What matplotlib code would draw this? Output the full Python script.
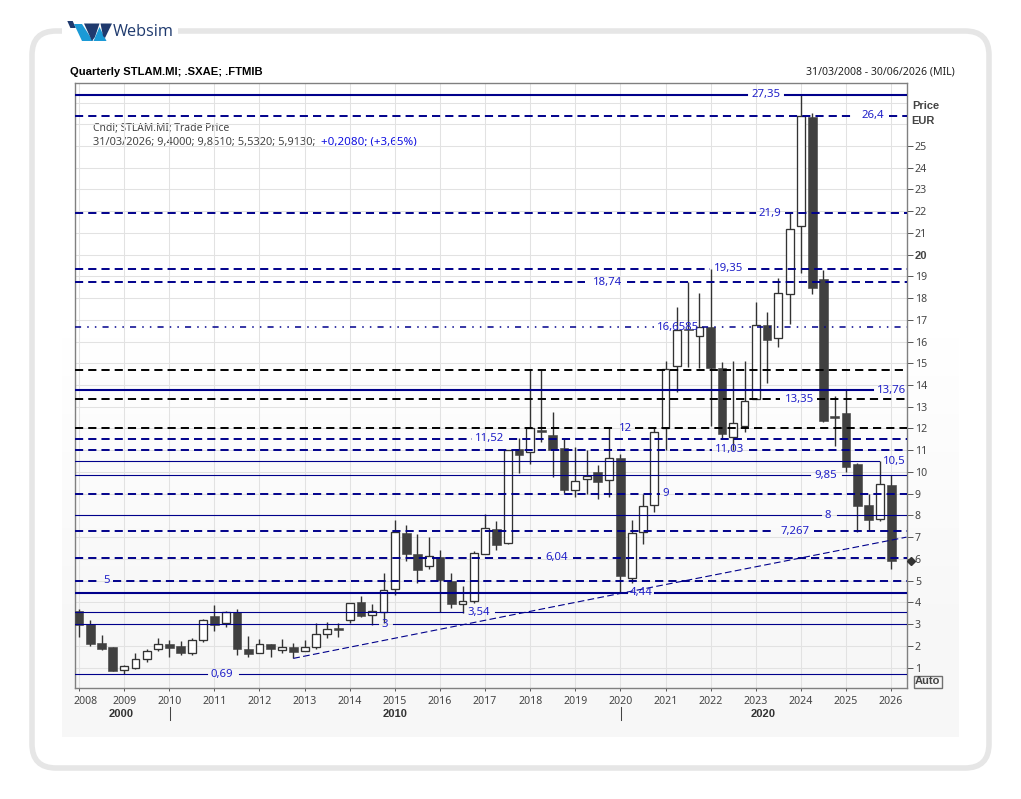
import matplotlib
matplotlib.use('Agg')
import matplotlib.pyplot as plt
import matplotlib.transforms as mtrans
from matplotlib.patches import FancyBboxPatch, Polygon, Rectangle
import numpy as np

plt.rcParams['font.family'] = ['Noto Sans', 'DejaVu Sans']
BOLD = ['Liberation Sans', 'DejaVu Sans']

# quarterly candles, first one is 31/03/2008
opens = [3.60, 2.99, 2.11, 1.93, 0.90, 0.99, 1.40, 1.87,
         2.07, 1.97, 1.68, 2.28, 3.36, 3.03, 3.57, 1.84,
         1.65, 2.07, 1.82, 1.93, 1.78, 1.93, 2.53, 2.80,
         3.17, 4.00, 3.40, 3.57, 4.60, 7.20, 6.22, 5.68,
         6.07, 4.97, 3.94, 4.07, 6.24, 7.36, 6.74, 11.04,
         10.90, 11.93, 11.70, 11.09, 9.15, 9.69, 9.98, 9.61,
         10.63, 5.10, 7.24, 8.49, 12.00, 14.86, 16.60, 16.24,
         16.65, 14.77, 11.59, 12.10, 13.36, 16.75, 16.15, 18.17,
         21.30, 26.34, 18.86, 12.57, 12.70, 10.36, 8.48, 7.82,
         9.40]
highs = [3.68, 3.20, 2.50, 1.93, 1.10, 1.65, 1.84, 2.34,
         2.27, 2.22, 2.34, 3.22, 3.88, 3.60, 3.68, 2.43,
         2.30, 2.07, 2.30, 2.11, 2.25, 3.03, 3.09, 3.03,
         3.98, 4.28, 3.92, 5.33, 7.79, 7.54, 7.14, 7.00,
         6.40, 5.33, 4.75, 6.36, 8.06, 7.74, 11.01, 11.55,
         14.70, 14.70, 12.76, 11.50, 11.13, 11.00, 10.32, 12.00,
         10.83, 7.79, 8.98, 12.04, 15.10, 17.60, 18.74, 18.23,
         19.35, 15.04, 15.10, 15.10, 17.83, 17.36, 18.91, 21.90,
         27.35, 26.50, 19.29, 13.49, 13.76, 10.40, 8.97, 10.50,
         9.851]
lows = [2.42, 2.00, 1.82, 0.85, 0.69, 0.95, 1.25, 1.77,
        1.50, 1.58, 1.58, 2.17, 2.69, 2.88, 1.59, 1.50,
        1.65, 1.50, 1.68, 1.42, 1.78, 1.84, 2.36, 2.42,
        3.06, 3.31, 2.94, 3.06, 4.34, 5.92, 4.90, 5.53,
        3.55, 3.74, 3.49, 3.98, 6.24, 6.41, 6.68, 9.96,
        10.38, 11.36, 9.75, 9.02, 8.83, 8.98, 8.77, 8.86,
        4.41, 4.87, 6.68, 8.16, 11.01, 13.69, 14.84, 14.80,
        12.11, 11.58, 11.01, 11.85, 13.36, 14.10, 15.76, 16.80,
        19.14, 18.19, 12.30, 11.20, 10.00, 7.25, 7.33, 7.76,
        5.532]
closes = [2.95, 2.10, 1.85, 0.85, 1.05, 1.40, 1.75, 2.07,
          1.92, 1.68, 2.28, 3.17, 2.96, 3.57, 1.87, 1.64,
          2.07, 1.84, 1.93, 1.73, 1.93, 2.53, 2.76, 2.74,
          3.98, 3.38, 3.59, 4.55, 7.24, 6.22, 5.50, 6.12,
          5.03, 3.94, 4.05, 6.25, 7.40, 6.65, 11.01, 10.80,
          12.00, 11.85, 11.00, 9.18, 9.60, 9.80, 9.55, 10.63,
          5.22, 7.17, 8.42, 11.82, 14.75, 16.54, 16.54, 16.68,
          14.80, 11.76, 12.24, 13.25, 16.75, 16.09, 18.22, 21.16,
          26.37, 18.48, 12.35, 12.50, 10.23, 8.43, 7.80, 9.43,
          5.913]

# horizontal levels
level_values = [27.35, 26.4, 21.9, 19.35, 18.74, 16.6585, 14.7, 13.76, 13.35, 12,
                11.52, 11.03, 10.5, 9.85, 9, 8, 7.267, 6.04, 5, 4.44, 3.54, 3, 0.69]
level_labels = ['27,35', '26,4', '21,9', '19,35', '18,74', '16,6585', '', '13,76', '13,35', '12',
                '11,52', '11,03', '10,5', '9,85', '9', '8', '7,267', '6,04', '5', '4,44', '3,54', '3', '0,69']
level_styles = ['thick', 'dash', 'dash', 'dash', 'dash', 'dots', 'black', 'thick', 'black', 'black',
                'dash', 'dash', 'thin', 'thin', 'dash', 'thin', 'dash', 'dash', 'dash', 'thick', 'thin', 'thin', 'thin']
# pixel x of the label and of the break in the line
label_px = [766, 873, 770, 729, 608, 678, 0, 891, 799, 625,
            490, 730, 894, 826, 666, 828, 795, 557, 106, 641, 479, 385, 222]
gap_from = [747, 855, 756, 710, 585, 654, 0, 873, 780, 617,
            472, 712, 879, 810, 660, 821, 775, 541, 100, 627, 463, 378, 207]
gap_to = [785, 889, 785, 748, 627, 702, 0, 907, 817, 635,
          509, 749, 907, 842, 675, 837, 814, 573, 113, 655, 495, 393, 239]

trend_x = [19, 48, 73.36]
trend_y = [1.42, 4.41, 7.0]

year_labels = [str(y) for y in range(2008, 2027)]
decade_labels = ['2000', '2010', '2020']
decade_px = [121, 395, 763]
price_ticks = list(range(1, 26))

NAVY = '#00008b'
LABEL = '#2020c8'
TXT = '#444444'
W, H = 1021, 799


def px_to_idx(px):
    return (px - 79) / 11.28


fig = plt.figure(figsize=(W / 100, H / 100), dpi=100, facecolor='white')

# page background, logo and card
bg = fig.add_axes([0, 0, 1, 1], zorder=0)
stops = np.interp(np.arange(60, 737), [60, 300, 640, 737], [1.0, 1.0, 0.965, 0.965])
bg.imshow(stops[:, None], extent=(62, 958, 737, 60), cmap='gray', vmin=0, vmax=1, aspect='auto')
bg.add_patch(FancyBboxPatch((32, 31), 957, 737, boxstyle='round,pad=0,rounding_size=24',
                            fc='none', ec='#e6e6e6', lw=4.0))
bg.add_patch(Rectangle((62, 20), 116, 20, fc='white', ec='none'))
bg.add_patch(Polygon([(67.3, 21), (72.7, 21), (75.8, 28), (70.4, 28)], fc='#1f3a6e', ec='none'))
bg.add_patch(Polygon([(74, 24), (82, 24), (93, 41), (82, 41)], fc='#1b9ad6', ec='none'))
bg.add_patch(Polygon([(84, 23.5), (99.5, 23.5), (95, 37), (92, 41)], fc='#1f3a6e', ec='none'))
bg.add_patch(Polygon([(93.5, 41), (99.5, 27), (106.5, 41)], fc='#1b9ad6', ec='none'))
bg.add_patch(Polygon([(100.5, 23.5), (112, 23.5), (105, 38), (103, 36)], fc='#1f3a6e', ec='none'))
bg.text(113, 32, 'Websim', color='#1f3a6e', fontsize=11.7, va='center', ha='left', family=['Open Sans'])
bg.text(70, 72, 'Quarterly STLAM.MI; .SXAE; .FTMIB', color='black', fontsize=8.1, fontweight='bold',
        va='center', family=BOLD)
bg.text(955, 72, '31/03/2008 - 30/06/2026 (MIL)', color='#222222', fontsize=7.6, va='center', ha='right')
bg.set_xlim(0, W)
bg.set_ylim(H, 0)
bg.axis('off')

# price chart
ax = fig.add_axes([74.5 / W, 1 - 688 / H, 832 / W, 605 / H], zorder=1)
ax.patch.set_alpha(0)
ax.set_xlim(px_to_idx(74.5), px_to_idx(906.5))
ax.set_ylim(0.057, 27.9)
ax.set_axisbelow(True)
for s in ax.spines.values():
    s.set_color('#808080')
    s.set_linewidth(1.0)

xs = np.arange(len(opens))
year_pos = xs[::4]
ax.set_xticks(year_pos)
ax.set_xticklabels(year_labels)
ax.set_yticks(price_ticks)
ax.set_yticks([26, 27], minor=True)
ax.yaxis.tick_right()
ax.tick_params(axis='x', length=2.5, width=0.7, color='#555555', labelsize=7.6, labelcolor=TXT, pad=3)
ax.tick_params(axis='y', length=4, width=0.7, color='#555555', labelsize=7.6, labelcolor=TXT, pad=2)
ax.tick_params(axis='y', which='minor', length=0)
ax.grid(True, which='both', color='#e2e2e2', lw=0.75)
for t in ax.get_yticklabels():
    if t.get_text() == '20':
        t.set_fontweight('bold')
        t.set_family(BOLD)
        t.set_fontsize(8)
# first year label is pushed inside
xtl = ax.get_xticklabels()[0]
xtl.set_transform(xtl.get_transform() + mtrans.ScaledTranslation(6.5 / 100, 0, fig.dpi_scale_trans))

# candles
for i in xs:
    ax.plot([i, i], [lows[i], highs[i]], color='#333333', lw=1.0, zorder=3, solid_capstyle='butt')
    top, bot = max(opens[i], closes[i]), min(opens[i], closes[i])
    if closes[i] >= opens[i]:
        ax.bar(i, top - bot, bottom=bot, width=7.8 / 11.28, fc='white', ec='#333333', lw=0.95, zorder=4)
    else:
        ax.bar(i, top - bot, bottom=bot, width=8.8 / 11.28, fc='#404040', ec='#404040', lw=0.4, zorder=4)

# levels, broken where the label sits
styles = {
    'thick': dict(color=NAVY, lw=1.5, ls='-'),
    'thin': dict(color=NAVY, lw=0.8, ls='-'),
    'dash': dict(color=NAVY, lw=1.4, ls=(0, (4.2, 2.6))),
    'black': dict(color='black', lw=1.4, ls=(0, (4.2, 2.6))),
    'dots': dict(color=NAVY, lw=1.1, ls=(0, (4, 4, 1, 4, 1, 4))),
}
x0, x1 = ax.get_xlim()
for val, lab, st, lp, ga, gb in zip(level_values, level_labels, level_styles, label_px, gap_from, gap_to):
    if lab:
        ax.plot([x0, px_to_idx(ga)], [val, val], zorder=5, **styles[st])
        if gb < 906:
            ax.plot([px_to_idx(gb), x1], [val, val], zorder=5, **styles[st])
        ax.text(px_to_idx(lp), val, lab, color=LABEL, fontsize=8.2, ha='center', va='center', zorder=6)
    else:
        ax.plot([x0, x1], [val, val], zorder=5, **styles[st])

ax.plot(trend_x, trend_y, color=NAVY, lw=0.8, ls=(0, (6, 3)), zorder=5)

# last price marker on the axis
ax.plot([x1 + 4.5 / 11.28], [closes[-1]], marker='D', ms=4.2, color='#333333', clip_on=False, zorder=7)

# readout
bg.text(93, 128, 'Cndl; STLAM.MI; Trade Price', color=TXT, fontsize=7.45, va='center')
bg.text(93, 142, '31/03/2026; 9,4000; 9,8510; 5,5320; 5,9130;', color=TXT, fontsize=7.95, va='center')
bg.text(320.5, 142, '+0,2080; (+3,65%)', color='#1010e0', fontsize=8.3, va='center')

# side and bottom furniture
bg.text(912, 106, 'Price', color=TXT, fontsize=8, fontweight='bold', va='center', family=BOLD)
bg.text(911, 121, 'EUR', color=TXT, fontsize=8, fontweight='bold', va='center', family=BOLD)
bg.text(927.5, 681.5, 'Auto', color=TXT, fontsize=8, fontweight='bold', va='center', ha='center', family=BOLD)
bg.add_patch(Rectangle((913.5, 675.5), 28, 12, fc='none', ec='#707070', lw=1.0))
for lab, px in zip(decade_labels, decade_px):
    bg.text(px, 714, lab, color='#333333', fontsize=8, fontweight='bold', ha='center', va='center', family=BOLD)
for px in [169.5, 620.5]:
    bg.plot([px, px], [707, 720], color='#444444', lw=0.75)
bg.set_xlim(0, W)
bg.set_ylim(H, 0)

fig.savefig('out.png', dpi=100)
